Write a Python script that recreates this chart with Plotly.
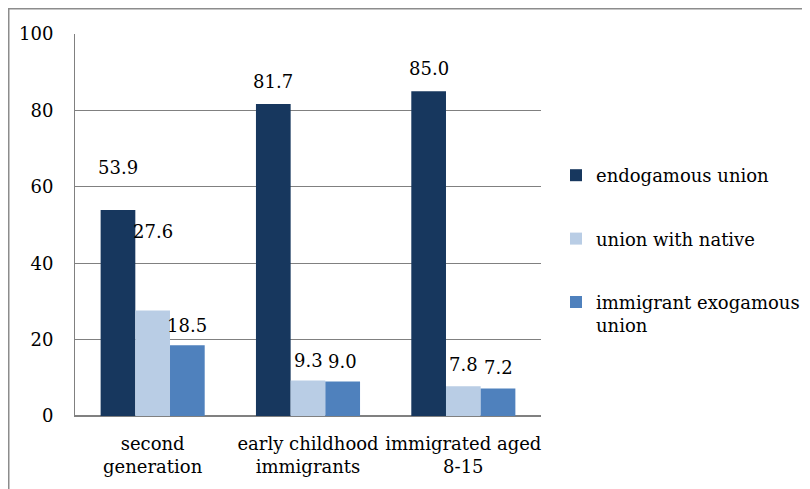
import plotly.graph_objects as go

categories = ["second<br>generation", "early childhood<br>immigrants", "immigrated aged<br>8-15"]
series_names = ["endogamous union", "union with native", "immigrant exogamous<br>union"]
endogamous = [53.9, 81.7, 85.0]
with_native = [27.6, 9.3, 7.8]
exogamous = [18.5, 9.0, 7.2]
y_ticks = [0, 20, 40, 60, 80, 100]

series_values = [endogamous, with_native, exogamous]
colors = ["#17375E", "#B9CDE5", "#4F81BD"]
# label vertical offsets (pixels above bar top), per series per category
label_shift = [[43, 22, 23], [79, 20, 22], [20, 20, 21]]

FONT = "'DejaVu Serif', serif"
FS = 18
bargap = 0.33
bw = (1 - bargap) / 3

L, T, PW, PH = 67, 26, 466, 382
W, H = 810, 489

fig = go.Figure()
for i, (name, vals, col) in enumerate(zip(series_names, series_values, colors)):
    fig.add_trace(go.Bar(x=categories, y=vals, name=name, marker=dict(color=col, line=dict(width=0)),
                         legendgroup=f"g{i}"))

annotations = []
for i, vals in enumerate(series_values):
    for j, v in enumerate(vals):
        annotations.append(dict(x=j + (i - 1) * bw, y=v, xref="x", yref="y", text=f"{v:.1f}",
                                showarrow=False, yshift=label_shift[i][j],
                                font=dict(family=FONT, size=FS, color="#000")))

fig.update_layout(
    width=W, height=H,
    margin=dict(l=L, r=W - L - PW, t=T, b=H - T - PH),
    paper_bgcolor="white", plot_bgcolor="white",
    barmode="group", bargap=bargap, bargroupgap=0,
    font=dict(family=FONT, size=FS, color="#000"),
    annotations=annotations,
    legend=dict(xref="container", yref="container", x=548 / W, xanchor="left",
                y=1 - 149 / H, yanchor="top",
                font=dict(family=FONT, size=FS, color="#000"),
                tracegroupgap=37, valign="top", bgcolor="rgba(0,0,0,0)"),
    shapes=[dict(type="rect", xref="paper", yref="paper",
                 x0=(0.75 - L) / PW, y0=-0.5, x1=1.8, y1=1 + (T - 0.75) / PH,
                 line=dict(color="#8c8c8c", width=1.5), fillcolor="rgba(0,0,0,0)", layer="below")],
    showlegend=True,
)
fig.update_yaxes(range=[0, 100], tickvals=y_ticks, showgrid=True, gridcolor="#808080", gridwidth=1,
                 showline=True, linecolor="#808080", linewidth=1, zeroline=True, zerolinecolor="#808080",
                 ticks="", ticklabelstandoff=17, tickfont=dict(family=FONT, size=FS), automargin=False)
fig.update_xaxes(showline=True, linecolor="#808080", linewidth=1, ticks="", ticklabelstandoff=11,
                 tickangle=0, tickfont=dict(family=FONT, size=FS), automargin=False)

fig.write_html("out.html")
